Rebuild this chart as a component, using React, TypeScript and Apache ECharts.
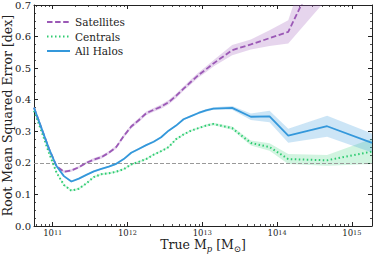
import React, { useEffect, useRef } from "react";
import * as echarts from "echarts";

// log10 of true halo mass (x positions)
const logM = [
  10.75, 10.85, 10.95, 11.05, 11.15, 11.25, 11.35, 11.45, 11.55, 11.65,
  11.75, 11.85, 11.95, 12.05, 12.15, 12.25, 12.35, 12.45, 12.55, 12.65,
  12.75, 12.85, 12.95, 13.05, 13.15, 13.4, 13.65, 13.9, 14.15, 14.67, 15.27,
];

const satellites = [
  0.375, 0.31, 0.245, 0.19, 0.172, 0.176, 0.186, 0.2, 0.21, 0.218,
  0.232, 0.25, 0.285, 0.315, 0.335, 0.357, 0.368, 0.378, 0.392, 0.412,
  0.435, 0.457, 0.478, 0.496, 0.515, 0.557, 0.575, 0.595, 0.615, 0.87, 1.0,
];
const satellitesErr = [
  0.004, 0.004, 0.004, 0.004, 0.004, 0.004, 0.004, 0.004, 0.005, 0.005,
  0.005, 0.005, 0.006, 0.006, 0.006, 0.006, 0.006, 0.007, 0.007, 0.007,
  0.007, 0.008, 0.008, 0.009, 0.01, 0.016, 0.016, 0.025, 0.037, 0.15, 0.2,
];

const centrals = [
  0.365, 0.3, 0.232, 0.17, 0.13, 0.112, 0.118, 0.135, 0.155, 0.164,
  0.167, 0.172, 0.18, 0.195, 0.203, 0.212, 0.226, 0.237, 0.25, 0.275,
  0.29, 0.302, 0.31, 0.318, 0.323, 0.31, 0.263, 0.25, 0.212, 0.208, 0.236,
];
const centralsErr = [
  0.003, 0.003, 0.003, 0.003, 0.003, 0.003, 0.003, 0.003, 0.003, 0.003,
  0.003, 0.003, 0.003, 0.003, 0.003, 0.003, 0.003, 0.003, 0.003, 0.003,
  0.003, 0.003, 0.003, 0.004, 0.004, 0.005, 0.008, 0.012, 0.016, 0.017, 0.04,
];

const allHalos = [
  0.375, 0.31, 0.245, 0.19, 0.158, 0.141, 0.15, 0.162, 0.173, 0.181,
  0.188, 0.197, 0.212, 0.232, 0.244, 0.256, 0.267, 0.281, 0.302, 0.318,
  0.338, 0.348, 0.358, 0.366, 0.372, 0.374, 0.346, 0.347, 0.286, 0.316, 0.263,
];
const allHalosErr = [
  0.003, 0.003, 0.003, 0.003, 0.003, 0.003, 0.003, 0.003, 0.003, 0.003,
  0.003, 0.003, 0.003, 0.003, 0.003, 0.003, 0.003, 0.003, 0.003, 0.003,
  0.003, 0.003, 0.003, 0.004, 0.004, 0.006, 0.01, 0.018, 0.022, 0.033, 0.03,
];

const xMajorTicks = [11, 12, 13, 14, 15];
const yTickLabels = ["0.0", "0.1", "0.2", "0.3", "0.4", "0.5", "0.6", "0.7"];
const referenceLevel = 0.2;

const FONT = "DejaVu Serif";
const INK = "#222";
const X_MIN = 10.75;
const X_MAX = 15.27;

const minorX: number[] = [];
for (let n = 10; n <= 15; n++) {
  for (let k = 2; k <= 9; k++) {
    const v = n + Math.log10(k);
    if (v > X_MIN && v < X_MAX) minorX.push(v);
  }
}

function bandSeries(key: string, vals: number[], errs: number[], color: string) {
  const rows = logM.map((x, i) => [x, vals[i] - errs[i], vals[i] + errs[i]]);
  return {
    type: "custom",
    name: key + "_band",
    silent: true,
    z: 1,
    clip: true,
    data: rows,
    encode: { x: 0, y: [1, 2] },
    renderItem: (params: any, api: any) => {
      if (params.dataIndex !== 0) return { type: "group", children: [] };
      const upper = rows.map((r) => api.coord([r[0], r[2]]));
      const lower = rows.map((r) => api.coord([r[0], r[1]])).reverse();
      const cs = params.coordSys;
      return {
        type: "polygon",
        shape: { points: upper.concat(lower) },
        style: { fill: color, stroke: "none" },
        clipPath: { type: "rect", shape: { x: cs.x, y: cs.y, width: cs.width, height: cs.height } },
      };
    },
  };
}

export default function App() {
  const ref = useRef<HTMLDivElement>(null);
  useEffect(() => {
    if (!ref.current) return;
    const chart = echarts.init(ref.current, null, { renderer: "svg" });
    const xBase = {
      type: "value",
      min: X_MIN,
      max: X_MAX,
      gridIndex: 0,
      splitLine: { show: false },
    };
    const majorTick = {
      show: true,
      inside: true,
      length: 4,
      customValues: xMajorTicks,
      lineStyle: { color: INK, width: 1 },
    };
    const minorTickX = {
      show: true,
      inside: true,
      length: 2,
      customValues: minorX,
      lineStyle: { color: INK, width: 0.8 },
    };
    const yBase = {
      type: "value",
      min: 0,
      max: 0.7,
      interval: 0.1,
      splitLine: { show: false },
      minorSplitLine: { show: false },
      axisLine: { show: true, lineStyle: { color: INK, width: 1 } },
      axisTick: { show: true, inside: true, length: 4, lineStyle: { color: INK } },
      minorTick: { show: true, splitNumber: 4, length: 2, lineStyle: { color: INK, width: 0.8 } },
    };
    const option: any = {
      animation: false,
      backgroundColor: "#fff",
      grid: { left: 34, top: 5, width: 338, height: 221, containLabel: false, outerBoundsMode: "none" },
      legend: {
        orient: "vertical",
        left: 41,
        top: 11,
        itemWidth: 23,
        itemHeight: 10,
        itemGap: 2.5,
        data: ["Satellites", "Centrals", "All Halos"],
        itemStyle: { opacity: 0 },
        textStyle: { fontFamily: FONT, fontSize: 10.5, color: INK, lineHeight: 12 },
      },
      xAxis: [
        {
          ...xBase,
          position: "bottom",
          axisLine: { show: true, onZero: false, lineStyle: { color: INK, width: 1 } },
          axisTick: majorTick,
          axisLabel: {
            customValues: xMajorTicks,
            margin: 3,
            formatter: (v: number) => `{b|10}{s|${Math.round(v)}}`,
            rich: {
              b: { fontFamily: FONT, fontSize: 8.5, color: INK, lineHeight: 8, verticalAlign: "bottom" },
              s: { fontFamily: FONT, fontSize: 6.5, color: INK, lineHeight: 8, verticalAlign: "top" },
            },
          },
          name: "{m|True M}{p|p}{m| [M}{o|⊙}{m|]}",
          nameLocation: "middle",
          nameGap: 12,
          nameMoveOverlap: false,
          nameTextStyle: {
            fontFamily: FONT,
            fontSize: 12.5,
            color: INK,
            lineHeight: 15,
            rich: {
              m: { fontFamily: FONT, fontSize: 12.5, color: INK, verticalAlign: "top", lineHeight: 15 },
              p: { fontFamily: FONT, fontSize: 8.5, fontStyle: "italic", color: INK, verticalAlign: "bottom", lineHeight: 15 },
              o: { fontFamily: FONT, fontSize: 8.5, color: INK, verticalAlign: "bottom", lineHeight: 15 },
            },
          },
        },
        {
          ...xBase,
          position: "bottom",
          axisLine: { show: false, onZero: false },
          axisTick: minorTickX,
          axisLabel: { show: false },
        },
        {
          ...xBase,
          position: "top",
          axisLine: { show: true, onZero: false, lineStyle: { color: INK, width: 1 } },
          axisTick: majorTick,
          axisLabel: { show: false },
        },
        {
          ...xBase,
          position: "top",
          axisLine: { show: false, onZero: false },
          axisTick: minorTickX,
          axisLabel: { show: false },
        },
      ],
      yAxis: [
        {
          ...yBase,
          position: "left",
          axisLabel: {
            fontFamily: FONT,
            fontSize: 10,
            color: INK,
            margin: 3,
            formatter: (v: number) => yTickLabels[Math.round(v * 10)] ?? v.toFixed(1),
          },
          name: "Root Mean Squared Error [dex]",
          nameLocation: "middle",
          nameGap: 20.5,
          nameMoveOverlap: false,
          nameTextStyle: { fontFamily: FONT, fontSize: 12.5, color: INK },
        },
        {
          ...yBase,
          position: "right",
          axisLabel: { show: false },
        },
      ],
      series: [
        bandSeries("sat", satellites, satellitesErr, "rgba(155,89,182,0.25)"),
        bandSeries("cen", centrals, centralsErr, "rgba(46,204,113,0.22)"),
        bandSeries("all", allHalos, allHalosErr, "rgba(52,152,219,0.25)"),
        {
          type: "line",
          name: "Satellites",
          data: logM.map((x, i) => [x, satellites[i]]),
          symbol: "none",
          itemStyle: { color: "#9b59b6" },
          lineStyle: { color: "#9b59b6", width: 1.8, type: [5.5, 2.6] },
          z: 3,
        },
        {
          type: "line",
          name: "Centrals",
          data: logM.map((x, i) => [x, centrals[i]]),
          symbol: "none",
          itemStyle: { color: "#2ecc71" },
          lineStyle: { color: "#2ecc71", width: 2, type: [1.5, 2.5] },
          z: 3,
        },
        {
          type: "line",
          name: "All Halos",
          data: logM.map((x, i) => [x, allHalos[i]]),
          symbol: "none",
          itemStyle: { color: "#3498db" },
          lineStyle: { color: "#3498db", width: 1.8 },
          z: 4,
          markLine: {
            silent: true,
            symbol: ["none", "none"],
            label: { show: false },
            lineStyle: { color: "#999", width: 1, type: [4, 2] },
            data: [{ yAxis: referenceLevel }],
            z: 2,
          },
        },
      ],
    };
    chart.setOption(option);
    return () => chart.dispose();
  }, []);
  return (
    <div
      ref={ref}
      style={{ position: "fixed", left: 0, top: 0, width: 374, height: 255 }}
    />
  );
}
